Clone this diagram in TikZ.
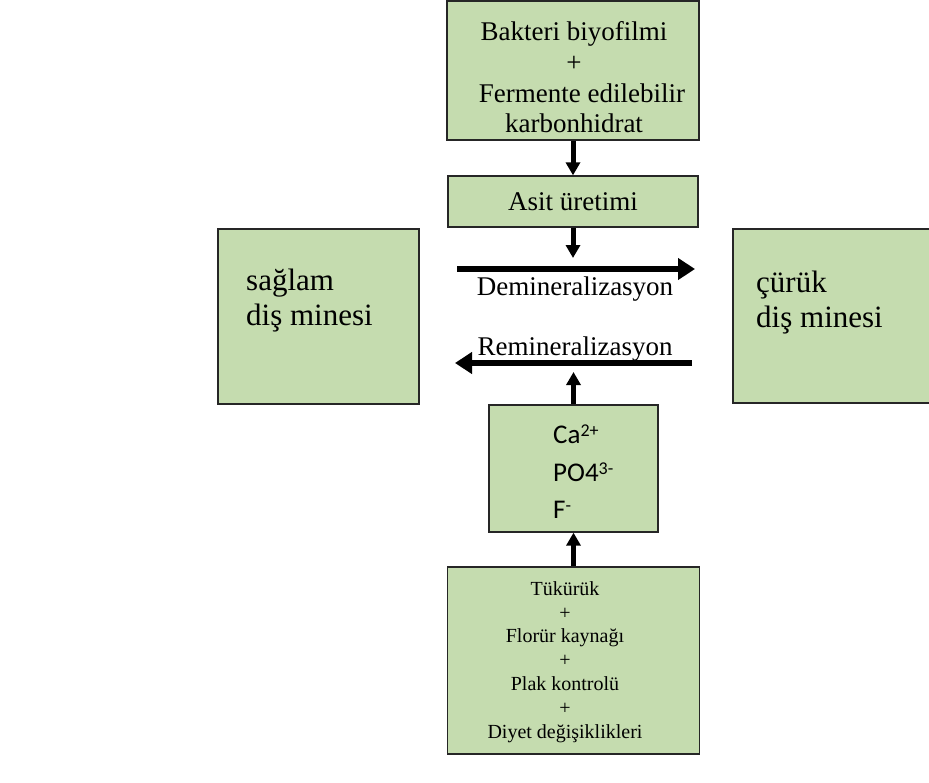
\documentclass[tikz,border=0pt]{standalone}
\usepackage{fontspec}
\setmainfont{Liberation Serif}
\newfontfamily\ionfont{Carlito}
\usetikzlibrary{arrows.meta}
\definecolor{boxgreen}{HTML}{C5DCAF}
\newcommand{\ionsup}[1]{\raisebox{7pt}{\fontsize{18}{18}\selectfont #1}}

\begin{document}
\begin{tikzpicture}[x=1pt, y=-1pt,
    box/.style={rectangle, draw=black!85, line width=1.3pt, fill=boxgreen, inner sep=0pt},
    txt/.style={inner sep=0pt, font=\fontsize{27}{30.7}\selectfont},
    vert/.style={line width=5pt, -{Triangle[width=14pt,length=13pt]}},
    horz/.style={line width=6pt, -{Triangle[width=21pt,length=17pt]}}]

    \useasboundingbox (0,0) rectangle (929,782);

    % Boxes
    \node (bakteri) [box, minimum width=252pt, minimum height=139pt] at (573,70.5) {};
    \node (asit) [box, minimum width=250pt, minimum height=51pt, font=\fontsize{27}{30.7}\selectfont] at (573,201.5) {Asit üretimi};
    \node (saglam) [box, minimum width=201pt, minimum height=175pt] at (318.5,316.5) {};
    \node (curuk) [box, minimum width=260pt, minimum height=174pt] at (863,316) {};
    \node (iyon) [box, minimum width=169pt, minimum height=127pt] at (573.5,468.5) {};
    \node (tukuruk) [box, minimum width=252pt, minimum height=187pt] at (573.5,660.5) {};

    % Box texts
    \node (bakteritxt) [txt, align=center, anchor=north] at (574,21.6) {Bakteri biyofilmi\\+\\\hspace*{16pt}Fermente edilebilir\\karbonhidrat};
    \node (saglamtxt) [txt, font=\fontsize{31}{35}\selectfont, align=left, anchor=north west] at (246,269) {sağlam\\diş minesi};
    \node (curuktxt) [txt, font=\fontsize{31}{35}\selectfont, align=left, anchor=north west] at (756,271) {çürük\\diş minesi};
    \node (iyontxt) [txt, font=\ionfont\fontsize{27}{37.5}\selectfont, align=left, anchor=north west] at (553,425) {Ca\ionsup{2+}\\PO4\ionsup{3-}\\F\ionsup{-}};
    \node (tukuruktxt) [txt, font=\fontsize{20}{23.8}\selectfont, align=center, anchor=north] at (565,581.3) {Tükürük\\+\\Florür kaynağı\\+\\Plak kontrolü\\+\\Diyet değişiklikleri};

    % Arrow ends
    \coordinate (demL) at (457,269);
    \coordinate (demR) at (695,269);
    \coordinate (remR) at (692,363);
    \coordinate (remL) at (455,363);
    \coordinate (demtop) at (573,258);
    \coordinate (rembot) at (573.5,372);

    % Labels
    \node (demtxt) [txt, anchor=base] at (575,295) {Demineralizasyon};
    \node (remtxt) [txt, anchor=base] at (575,355) {Remineralizasyon};

    % Arrows
    \draw[vert] (bakteri) -- (asit);
    \draw[vert] (asit) -- (demtop);
    \draw[horz] (demL) -- (demR);
    \draw[horz] (remR) -- (remL);
    \draw[vert] (iyon) -- (rembot);
    \draw[vert] (tukuruk) -- (iyon);

\end{tikzpicture}
\end{document}
